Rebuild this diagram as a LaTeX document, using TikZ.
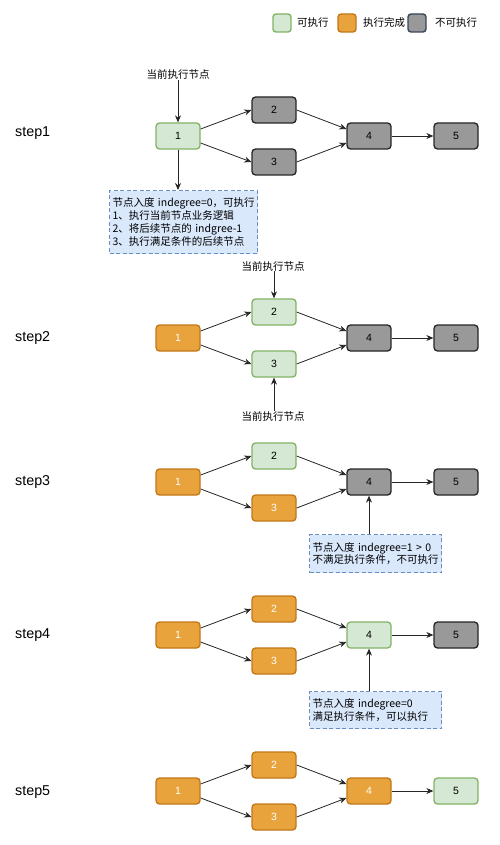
\documentclass[tikz,border=0pt]{standalone}
\usepackage{fontspec}
\setmainfont{Liberation Sans}
\newfontfamily\cjk{Noto Sans CJK SC}
\usetikzlibrary{arrows.meta,calc}
\definecolor{gfill}{HTML}{D5E8D4}
\definecolor{gline}{HTML}{82B366}
\definecolor{ofill}{HTML}{E8A33C}
\definecolor{oline}{HTML}{C27718}
\definecolor{kfill}{HTML}{999999}
\definecolor{kline}{HTML}{262626}
\definecolor{kleg}{HTML}{37475A}
\definecolor{nfill}{HTML}{DAE8FC}
\definecolor{nline}{HTML}{6C8EBF}
\tikzset{
  box/.style={rounded corners=3.5pt, minimum width=44pt, minimum height=26pt, line width=1.3pt, inner sep=0pt, font=\fontsize{10.5}{12}\selectfont},
  gnode/.style={box, fill=gfill, draw=gline},
  onode/.style={box, fill=ofill, draw=oline, text=white},
  knode/.style={box, fill=kfill, draw=kline},
  legbox/.style={rounded corners=3pt, minimum width=18pt, minimum height=18pt, line width=1.4pt, inner sep=0pt},
  legtext/.style={anchor=west, inner sep=0pt, font=\cjk\fontsize{10.5}{12}\selectfont},
  notebox/.style={draw=nline, fill=nfill, dash pattern=on 4pt off 2.5pt, line width=1pt, align=left, inner xsep=3pt, inner ysep=0pt, anchor=north west, font=\cjk\fontsize{10.5}{12.7}\selectfont},
  arr/.style={-{Stealth[length=7pt,width=6pt]}, line width=0.8pt, draw=black!85},
  steplbl/.style={anchor=west, inner sep=0pt, font=\fontsize{14.3}{16}\selectfont},
  cur/.style={inner sep=0pt, font=\cjk\fontsize{10.5}{12}\selectfont}
}
\newcommand\stepgraph[7]{%
  \node[#3] (#1a) at (178,#2) {1};
  \node[#4] (#1b) at (274,#2-26) {2};
  \node[#5] (#1c) at (274,#2+26) {3};
  \node[#6] (#1d) at (369,#2) {4};
  \node[#7] (#1e) at (456,#2) {5};
  \draw[arr] ([yshift=7pt]#1a.east) -- (#1b.west);
  \draw[arr] ([yshift=-7pt]#1a.east) -- (#1c.west);
  \draw[arr] (#1b.east) -- ([yshift=7pt]#1d.west);
  \draw[arr] (#1c.east) -- ([yshift=-7pt]#1d.west);
  \draw[arr] (#1d.east) -- (#1e.west);
}
\begin{document}
\begin{tikzpicture}[x=1pt,y=-1pt]
\useasboundingbox[fill=white] (0,0) rectangle (500,845);
% legend
\node[legbox, fill=gfill, draw=gline] (lg) at (282,23) {};
\node[legtext] (lgt) at (297,23) {可执行};
\node[legbox, fill=ofill, draw=oline] (lo) at (347,23) {};
\node[legtext] (lot) at (363,23) {执行完成};
\node[legbox, fill=kfill, draw=kleg] (lk) at (417,23) {};
\node[legtext] (lkt) at (435,23) {不可执行};
% step labels
\node[steplbl] (s1) at (15,133) {step1};
\node[steplbl] (s2) at (15,338) {step2};
\node[steplbl] (s3) at (15,482) {step3};
\node[steplbl] (s4) at (15,635) {step4};
\node[steplbl] (s5) at (15,792) {step5};
% step 1
\stepgraph{p}{136}{gnode}{knode}{knode}{knode}{knode}
\node[cur] (c1) at (178,75) {当前执行节点};
\draw[arr] (c1.south) -- (pa.north);
\node[notebox, minimum width=148pt, minimum height=63pt, text width=142pt] (n1) at (109,190) {\mbox{节点入度 indegree=0，可执行}\\\mbox{1、执行当前节点业务逻辑}\\\mbox{2、将后续节点的 indgree-1}\\\mbox{3、执行满足条件的后续节点}};
\draw[arr] (pa.south) -- (pa.south |- n1.north);
% step 2
\stepgraph{q}{338}{onode}{gnode}{gnode}{knode}{knode}
\node[cur] (c2) at (273,266) {当前执行节点};
\draw[arr] (c2.south -| qb.north) -- (qb.north);
\node[cur] (c3) at (273,416) {当前执行节点};
\draw[arr] (c3.north -| qc.south) -- (qc.south);
% step 3
\stepgraph{r}{482}{onode}{gnode}{onode}{knode}{knode}
\node[notebox, minimum width=132pt, minimum height=38pt, text width=126pt] (n3) at (309,534) {\mbox{节点入度 indegree=1 > 0}\\\mbox{不满足执行条件，不可执行}};
\draw[arr] (rd.south |- n3.north) -- (rd.south);
% step 4
\stepgraph{s}{635}{onode}{onode}{onode}{gnode}{knode}
\node[notebox, minimum width=132pt, minimum height=37pt, text width=126pt] (n4) at (309,691) {\mbox{节点入度 indegree=0}\\\mbox{满足执行条件，可以执行}};
\draw[arr] (sd.south |- n4.north) -- (sd.south);
% step 5
\stepgraph{t}{791}{onode}{onode}{onode}{onode}{gnode}
\end{tikzpicture}
\end{document}
